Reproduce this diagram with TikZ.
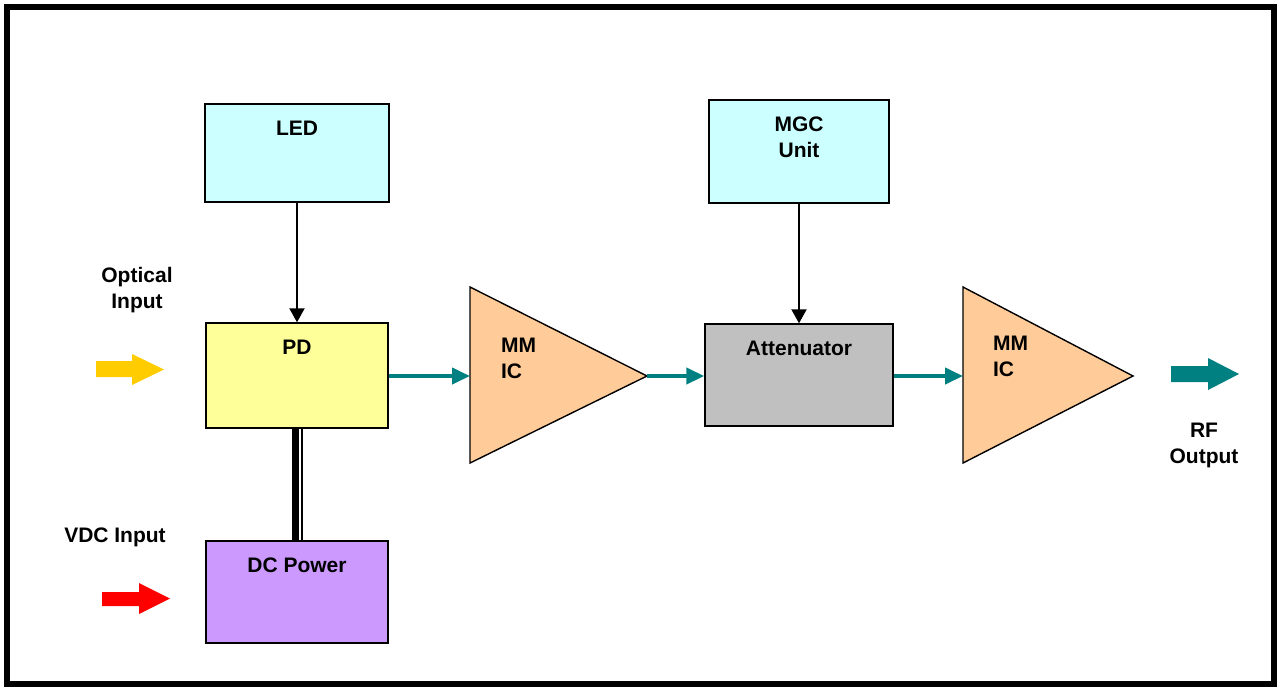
\documentclass[tikz,border=0pt]{standalone}
\usepackage{fontspec}
\setmainfont{Liberation Sans}
\usetikzlibrary{arrows.meta,positioning,calc}

\definecolor{ledcyan}{HTML}{CCFFFF}
\definecolor{pdyellow}{HTML}{FFFF99}
\definecolor{dcpurple}{HTML}{CC99FF}
\definecolor{attgray}{HTML}{C0C0C0}
\definecolor{amporange}{HTML}{FFCC99}
\definecolor{sigteal}{HTML}{008080}
\definecolor{optyellow}{HTML}{FFCC00}

\begin{document}
\begin{tikzpicture}[x=0.5pt,y=-0.5pt,
                    font=\fontsize{10.5}{13}\selectfont\bfseries]
  \tikzstyle{block}=[draw=black,line width=0.7pt,inner sep=0pt,
                     minimum width=91pt,minimum height=51pt]
  \tikzstyle{title}=[anchor=north,inner sep=0pt,yshift=-8.75pt,align=center]
  \tikzstyle{amp}=[draw=black,line width=0.7pt,fill=amporange]
  \tikzstyle{ctrl}=[-{Triangle[length=7pt,width=7.5pt]},line width=1pt]
  \tikzstyle{sig}=[-{Triangle[length=9pt,width=8pt]},draw=sigteal,line width=2pt]
  \tikzstyle{caption}=[align=center,inner sep=0pt]

  \useasboundingbox (0,0) rectangle (1278,687);
  \draw[line width=3pt] (7,7) rectangle (1274,684);

  % boxes
  \node[block,fill=ledcyan,minimum width=92pt,minimum height=49pt]
        (led) at (297,153) {};
  \node[title] at (led.north) {LED};
  \node[block,fill=pdyellow,minimum height=52.5pt] (pd) at (297,375.5) {};
  \node[title] at (pd.north) {PD};
  \node[block,fill=dcpurple] (dc) at (297,592) {};
  \node[title] at (dc.north) {DC Power};
  \node[block,fill=ledcyan,minimum width=90pt,minimum height=51.5pt]
        (mgc) at (799,151.5) {};
  \node[title] at (mgc.north) {MGC\\Unit};
  \node[block,fill=attgray,minimum width=94pt] (att) at (799,375) {};
  \node[title] at (att.north) {Attenuator};

  % amplifiers
  \draw[amp] (470,287) -- (647,376) -- (470,463) -- cycle;
  \coordinate (amp1in) at (470,376);
  \coordinate (amp1out) at (647,376);
  \node[caption,align=left] at (518.5,358) {MM\\IC};
  \draw[amp] (963,287) -- (1133,376) -- (963,463) -- cycle;
  \coordinate (amp2in) at (963,376);
  \node[caption,align=left] at (1010.5,356) {MM\\IC};

  % connectors
  \draw[ctrl] (led) -- (pd);
  \draw[ctrl] (mgc) -- (att);
  \draw[sig] (pd.east |- amp1in) -- (amp1in);
  \draw[sig] (amp1out) -- (att.west |- amp1out);
  \draw[sig] (att.east |- amp2in) -- (amp2in);
  \draw[line width=3.5pt] ([xshift=-0.75pt]pd.south) -- ([xshift=-0.75pt]dc.north);
  \draw[line width=1pt] ([xshift=2.5pt]pd.south) -- ([xshift=2.5pt]dc.north);

  % block arrows
  \fill[optyellow] (96,361) -- (132,361) -- (132,354) -- (164,369.5)
        -- (132,385) -- (132,377) -- (96,377) -- cycle;
  \fill[red] (102,592) -- (139,592) -- (139,583) -- (170,598.5)
        -- (139,614) -- (139,606) -- (102,606) -- cycle;
  \fill[sigteal] (1171,366) -- (1208,366) -- (1208,358) -- (1239,374)
        -- (1208,390) -- (1208,382) -- (1171,382) -- cycle;

  % labels
  \node[caption] (optin) at (137,290) {Optical\\Input};
  \node[caption] (vdcin) at (115,537) {VDC Input};
  \node[caption] (rfout) at (1204,445.5) {RF\\Output};
\end{tikzpicture}
\end{document}
